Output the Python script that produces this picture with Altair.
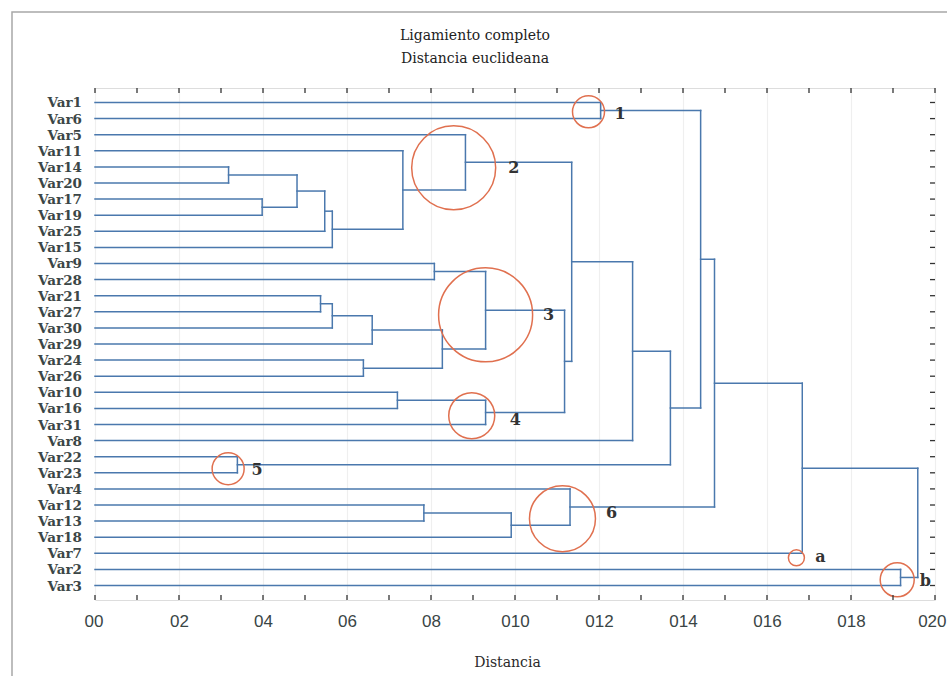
import altair as alt
import pandas as pd

# Leaf order along the vertical axis (top to bottom)
leaves = ["Var1", "Var6", "Var5", "Var11", "Var14", "Var20", "Var17", "Var19",
          "Var25", "Var15", "Var9", "Var28", "Var21", "Var27", "Var30", "Var29",
          "Var24", "Var26", "Var10", "Var16", "Var31", "Var8", "Var22", "Var23",
          "Var4", "Var12", "Var13", "Var18", "Var7", "Var2", "Var3"]

# Agglomeration steps: children joined and linkage distance (c<n> = n-th step)
merge_a = ["Var1", "Var14", "Var17", "c2", "c4", "c5", "Var11", "Var5",
           "Var9", "Var21", "c10", "c11", "Var24", "c12", "c9", "Var10",
           "c16", "c15", "c8", "c19", "Var22", "c20", "c1", "Var12",
           "c24", "Var4", "c23", "c27", "Var2", "c28"]
merge_b = ["Var6", "Var20", "Var19", "c3", "Var25", "Var15", "c6", "c7",
           "Var28", "Var27", "Var30", "Var29", "Var26", "c13", "c14", "Var16",
           "Var31", "c17", "c18", "Var8", "Var23", "c21", "c22", "Var13",
           "Var18", "c25", "c26", "Var7", "Var3", "c29"]
merge_dist = [0.1204, 0.0318, 0.0398, 0.0481, 0.0547, 0.0565, 0.0733, 0.0882,
              0.0808, 0.0537, 0.0565, 0.0660, 0.0639, 0.0827, 0.0930, 0.0720,
              0.0930, 0.1118, 0.1135, 0.1280, 0.0339, 0.1370, 0.1442, 0.0783,
              0.0991, 0.1131, 0.1475, 0.1684, 0.1918, 0.1959]

# Highlighted groups: label, centre (distance, leaf position)
ring_label = ["1", "2", "3", "4", "5", "6", "a", "b"]
ring_dist = [0.1175, 0.0854, 0.0930, 0.0897, 0.0317, 0.1113, 0.1670, 0.1910]
ring_pos = [0.58, 4.06, 13.19, 19.45, 22.75, 25.85, 28.28, 29.65]
ring_radius_px = [16, 42, 47, 23, 16, 33, 8, 17]

tag_dist = [0.1250, 0.0997, 0.1080, 0.1001, 0.0386, 0.1230, 0.1727, 0.1977]
tag_pos = [0.72, 4.05, 13.20, 19.70, 22.80, 25.48, 28.24, 29.72]

x_ticks = [i / 100 for i in range(21)]

# --- build the dendrogram segments ---
pos = {name: (float(i), 0.0) for i, name in enumerate(leaves)}
segs = []
for k, (a, b, d) in enumerate(zip(merge_a, merge_b, merge_dist)):
    ya, ha = pos[a]
    yb, hb = pos[b]
    segs.append({"x": ha, "x2": d, "y": ya, "y2": ya})
    segs.append({"x": hb, "x2": d, "y": yb, "y2": yb})
    segs.append({"x": d, "x2": d, "y": ya, "y2": yb})
    pos[f"c{k + 1}"] = ((ya + yb) / 2, d)
seg_df = pd.DataFrame(segs)

leaf_df = pd.DataFrame({"p": list(range(len(leaves))), "name": leaves})
rings = pd.DataFrame({"x": ring_dist, "y": ring_pos,
                      "s": [(2 * r) ** 2 for r in ring_radius_px]})
tags = pd.DataFrame({"x": tag_dist, "y": tag_pos, "t": ring_label})

W, H = 840, 512
xscale = alt.Scale(domain=[0, 0.2], nice=False, zero=False)
yscale = alt.Scale(domain=[-0.9, 30.9], reverse=True, nice=False, zero=False)

x_axis = alt.Axis(
    values=[i / 50 for i in range(11)],
    labelExpr="'0' + round(datum.value * 100)",
    labelFont="Liberation Sans", labelFontSize=17, labelColor="#3a4545",
    labelPadding=13, labelFlush=True, labelFlushOffset=11, labelOverlap=False,
    ticks=False, domain=False,
    grid=True, gridColor="#efefef", gridWidth=1.2,
    title="Distancia", titleFont="DejaVu Serif", titleFontSize=14,
    titleFontWeight="normal", titleColor="#2a2a2a",
    titleX=412, titleY=62, titleAlign="center", titleBaseline="middle",
)
y_axis = alt.Axis(labels=False, ticks=False, domain=False, grid=False, title=None)

lines = alt.Chart(seg_df).mark_rule(
    color="#4a78ad", strokeWidth=1.5, strokeCap="square"
).encode(
    x=alt.X("x:Q", scale=xscale, axis=x_axis),
    x2="x2:Q",
    y=alt.Y("y:Q", scale=yscale, axis=y_axis),
    y2="y2:Q",
)

# variable names beside each leaf
leaf_names = alt.Chart(leaf_df).mark_text(
    font="DejaVu Serif", fontSize=13.5, fontWeight="bold",
    color="#3b4646", align="right", baseline="middle", dx=-13, dy=1
).encode(
    y=alt.Y("p:Q", scale=yscale), x=alt.value(0), text="name:N"
)

circles = alt.Chart(rings).mark_point(
    shape="circle", filled=False, color="#e0704f", strokeWidth=1.5, opacity=1
).encode(
    x=alt.X("x:Q", scale=xscale),
    y=alt.Y("y:Q", scale=yscale),
    size=alt.Size("s:Q", scale=None, legend=None),
)

labels = alt.Chart(tags).mark_text(
    font="DejaVu Serif", fontSize=16, fontWeight="bold", color="#333333",
    align="center", baseline="middle"
).encode(
    x=alt.X("x:Q", scale=xscale),
    y=alt.Y("y:Q", scale=yscale),
    text="t:N",
)

tick_df = pd.DataFrame({"v": x_ticks})
bottom_ticks = alt.Chart(tick_df).mark_rule(color="#333", strokeWidth=1.3).encode(
    x=alt.X("v:Q", scale=xscale), y=alt.value(H), y2=alt.value(H - 5))
top_ticks = alt.Chart(tick_df).mark_rule(color="#333", strokeWidth=1.3).encode(
    x=alt.X("v:Q", scale=xscale), y=alt.value(0), y2=alt.value(5))
right_ticks = alt.Chart(leaf_df).mark_rule(color="#333", strokeWidth=1.3).encode(
    y=alt.Y("p:Q", scale=yscale), x=alt.value(W), x2=alt.value(W - 5))

# outer figure border
frame = alt.Chart(alt.Data(values=[{}])).mark_rect(
    fillOpacity=0, stroke="#a8a8a8", strokeWidth=1.5
).encode(x=alt.value(-83), x2=alt.value(W + 40), y=alt.value(-76), y2=alt.value(H + 120))

chart = alt.layer(
    frame, lines, leaf_names, circles, labels, bottom_ticks, top_ticks, right_ticks
).properties(
    width=W, height=H,
    title=alt.TitleParams(
        ["Ligamiento completo", "Distancia euclideana"],
        font="DejaVu Serif", fontSize=14, fontWeight="normal", color="#222222",
        anchor="middle", frame="group", dx=-40, dy=55, offset=0, lineHeight=23,
    ),
    autosize=alt.AutoSizeParams(type="none"),
    padding={"left": 95, "top": 88, "right": 12, "bottom": 76},
).configure_view(
    stroke="#333333", strokeWidth=2
).configure(background="white")

chart.save("out.html", embed_options={"renderer": "svg", "actions": False})
